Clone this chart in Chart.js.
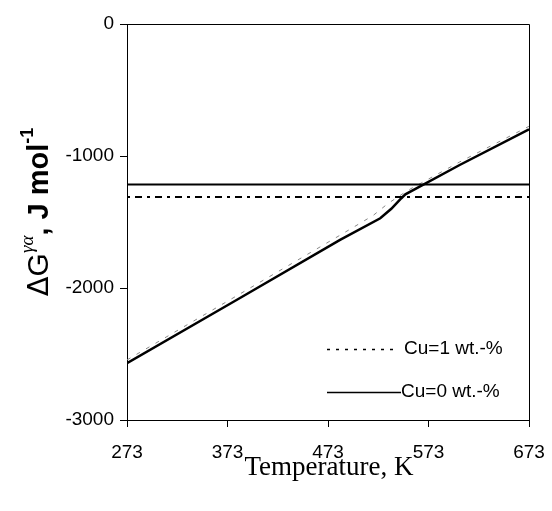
<!DOCTYPE html>
<html>
<head>
<meta charset="utf-8">
<script src="https://cdn.jsdelivr.net/npm/chart.js@4.4.1/dist/chart.umd.min.js"></script>
<style>
html,body{margin:0;padding:0;background:#fff;}
#c{display:block;}
</style>
</head>
<body>
<canvas id="c" width="552" height="511"></canvas>
<script>
// ---- data ----
const cu0T = [273, 382, 485, 525, 536, 546, 550, 604, 673];
const cu0G = [-2570, -2091, -1636, -1472, -1400, -1320, -1290, -1068, -798];
const cu1T = [273, 382, 485, 518, 533, 553, 604, 673];
const cu1G = [-2545, -2060, -1600, -1450, -1358, -1258, -1045, -775];
const levelCu0 = -1215;
const levelCu1 = -1310;
const xRange = [273, 673];
const xTicks = [273, 373, 473, 573, 673];
const yTicks = [0, -1000, -2000, -3000];
const legendLabels = ['Cu=1 wt.-%', 'Cu=0 wt.-%'];
const xTitle = 'Temperature, K';

const pts = (xs, ys) => xs.map((x, i) => ({x: x, y: ys[i]}));

const boxPlugin = {
  id: 'box',
  afterDatasetsDraw(chart) {
    const {ctx, chartArea: a} = chart;
    ctx.save();
    ctx.strokeStyle = '#000';
    ctx.lineWidth = 1;
    ctx.beginPath();
    ctx.moveTo(Math.round(a.left) + 0.5, Math.round(a.top) + 0.5);
    ctx.lineTo(Math.round(a.right) + 0.5, Math.round(a.top) + 0.5);
    ctx.lineTo(Math.round(a.right) + 0.5, Math.round(a.bottom) + 0.5);
    ctx.stroke();

    // legend
    const items = [
      {label: legendLabels[0], dash: [3, 6], width: 1.5, y: 349},
      {label: legendLabels[1], dash: [], width: 1.5, y: 392}
    ];
    ctx.font = '19px "Liberation Sans", Arial, sans-serif';
    ctx.fillStyle = '#000';
    ctx.textBaseline = 'middle';
    ctx.textAlign = 'left';
    items.forEach((it, i) => {
      ctx.beginPath();
      ctx.setLineDash(it.dash);
      ctx.lineWidth = it.width;
      ctx.moveTo(327, it.y + 0.5);
      ctx.lineTo(i === 0 ? 397 : 401, it.y + 0.5);
      ctx.stroke();
      ctx.setLineDash([]);
      ctx.fillText(it.label, i === 0 ? 404 : 401, it.y);
    });

    // x title
    ctx.font = '27px "Liberation Serif", "Times New Roman", serif';
    ctx.textAlign = 'center';
    ctx.fillText(xTitle, 329, 468);

    // y title (rotated, with superscripts)
    const parts = [
      {t: '\u0394', f: '29px "DejaVu Sans", sans-serif', dy: 0},
      {t: 'G', f: '30px "Liberation Sans", Arial, sans-serif', dy: 0},
      {t: '\u03B3\u03B1', f: 'italic 19px "Liberation Serif", serif', dy: -12},
      {t: ', J mol', f: 'bold 29px "Liberation Sans", Arial, sans-serif', dy: 0},
      {t: '-1', f: 'bold 18px "Liberation Sans", Arial, sans-serif', dy: -12}
    ];
    let total = 0;
    parts.forEach(p => { ctx.font = p.f; p.w = ctx.measureText(p.t).width; total += p.w; });
    ctx.translate(40, 212);
    ctx.rotate(-Math.PI / 2);
    ctx.textAlign = 'left';
    ctx.textBaseline = 'middle';
    let x = -total / 2;
    parts.forEach(p => { ctx.font = p.f; ctx.fillText(p.t, x, p.dy); x += p.w; });
    ctx.restore();
  }
};

new Chart(document.getElementById('c'), {
  type: 'scatter',
  data: {
    datasets: [
      {label: 'Cu=0 level', data: pts(xRange, [levelCu0, levelCu0]), showLine: true,
       borderColor: '#000', borderWidth: 2, pointRadius: 0},
      {label: 'Cu=1 level', data: pts(xRange, [levelCu1, levelCu1]), showLine: true,
       borderColor: '#000', borderWidth: 2, borderDash: [3, 5, 7, 5], pointRadius: 0},
      {label: legendLabels[0], data: pts(cu1T, cu1G), showLine: true,
       borderColor: '#888', borderWidth: 1, borderDash: [4, 7], pointRadius: 0},
      {label: legendLabels[1], data: pts(cu0T, cu0G), showLine: true,
       borderColor: '#000', borderWidth: 2.5, pointRadius: 0}
    ]
  },
  options: {
    responsive: false,
    animation: false,
    events: [],
    layout: {padding: {left: 0, top: 24, right: 23, bottom: 0}},
    plugins: {legend: {display: false}, tooltip: {enabled: false}},
    scales: {
      x: {
        type: 'linear', min: xRange[0], max: xRange[1],
        afterBuildTicks: s => { s.ticks = xTicks.map(v => ({value: v})); },
        afterFit: s => { s.height = 91; s.paddingLeft = 0; s.paddingRight = 0; },
        border: {color: '#000', width: 1},
        grid: {drawOnChartArea: false, drawTicks: true, tickLength: 7, color: '#000'},
        ticks: {color: '#000', padding: 14, maxRotation: 0,
                font: {family: '"Liberation Sans", Arial, sans-serif', size: 19},
                callback: v => String(v)}
      },
      y: {
        type: 'linear', min: -3000, max: 0,
        afterBuildTicks: s => { s.ticks = yTicks.map(v => ({value: v})); },
        afterFit: s => { s.width = 127; s.paddingTop = 0; s.paddingBottom = 0; },
        border: {color: '#000', width: 1},
        grid: {drawOnChartArea: false, drawTicks: true, tickLength: 7, color: '#000'},
        ticks: {color: '#000', padding: 6,
                font: {family: '"Liberation Sans", Arial, sans-serif', size: 19},
                callback: v => String(v)}
      }
    }
  },
  plugins: [boxPlugin]
});
</script>
</body>
</html>
